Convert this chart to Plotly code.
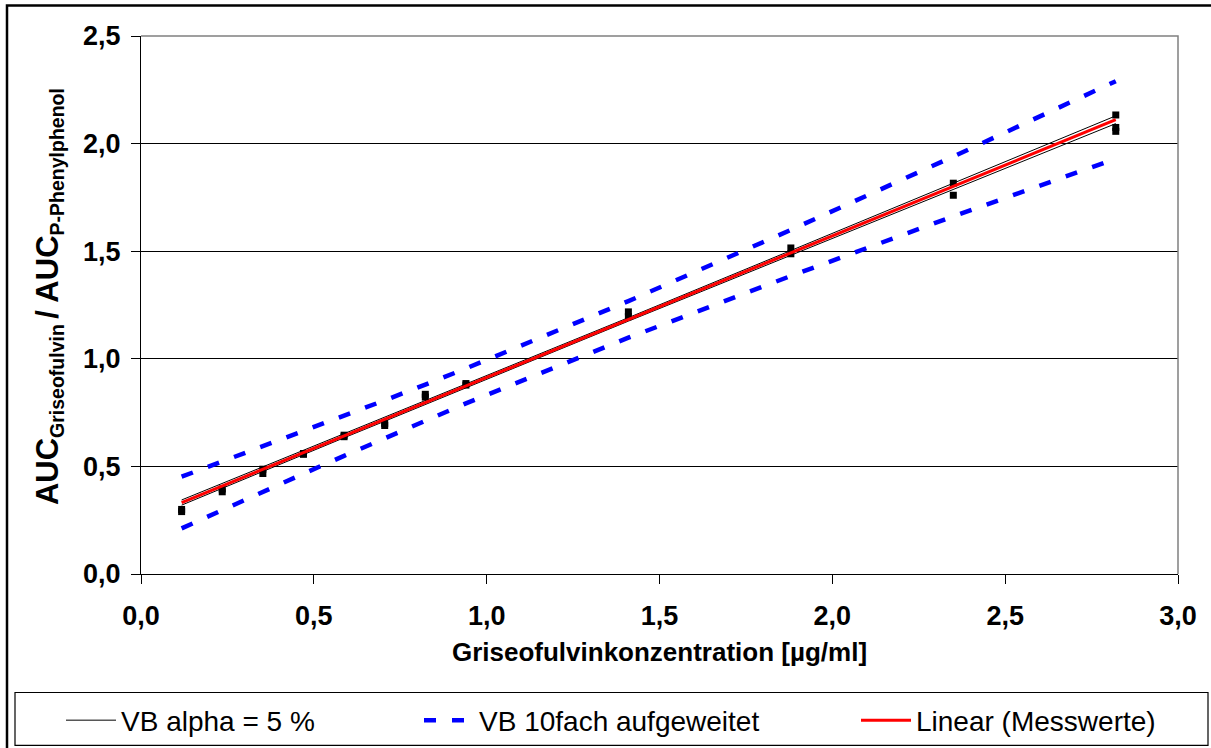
import plotly.graph_objects as go

# ---------------- data ----------------
conc = [0.1175, 0.235, 0.3525, 0.47, 0.5875, 0.705, 0.8225, 0.94, 1.41, 1.88, 2.35, 2.82]

meas_x = [0.1175, 0.1175, 0.235, 0.235, 0.3525, 0.3525, 0.47, 0.47, 0.5875, 0.5875,
          0.705, 0.705, 0.8225, 0.8225, 0.94, 0.94, 1.41, 1.41, 1.88, 1.88,
          2.35, 2.35, 2.82, 2.82, 2.82]
meas_y = [0.300, 0.290, 0.395, 0.382, 0.487, 0.467, 0.560, 0.556, 0.645, 0.638,
          0.700, 0.690, 0.835, 0.822, 0.885, 0.878, 1.218, 1.196, 1.515, 1.488,
          1.816, 1.760, 2.133, 2.075, 2.057]

vb5_upper = [0.344, 0.421, 0.497, 0.574, 0.651, 0.728, 0.804, 0.882, 1.191, 1.503, 1.815, 2.129]
vb5_lower = [0.320, 0.399, 0.477, 0.554, 0.633, 0.710, 0.788, 0.866, 1.175, 1.481, 1.787, 2.093]

vb10_upper = [0.452, 0.522, 0.592, 0.662, 0.734, 0.807, 0.880, 0.955, 1.268, 1.599, 1.940, 2.290]
vb10_lower = [0.212, 0.298, 0.382, 0.466, 0.549, 0.631, 0.712, 0.793, 1.098, 1.385, 1.662, 1.930]

lin_x = [0.1175, 2.82]
lin_y = [0.332, 2.111]

x_ticks = [0.0, 0.5, 1.0, 1.5, 2.0, 2.5, 3.0]
y_ticks = [0.0, 0.5, 1.0, 1.5, 2.0, 2.5]

names = ["VB alpha = 5 %", "VB 10fach aufgeweitet", "Linear (Messwerte)"]
x_title = "Griseofulvinkonzentration [µg/ml]"
y_title = ("AUC<sub><span style='font-size:19.5px'>Griseofulvin </span></sub>/ "
           "AUC<sub><span style='font-size:19.5px'>P-Phenylphenol</span></sub>")

# ---------------- figure ----------------
FONT = "Liberation Sans, Arial, sans-serif"
W, H = 1211, 758
SY = H / 748.0          # the page is photographed slightly squeezed vertically
L, R = 141, 33
T = round(35.5 * SY)
B = H - round(574.3 * SY)
PW, PH = W - L - R, H - T - B


def px(xp):
    return (xp - L) / PW


def py(yp):
    return (H - B - yp * SY) / PH


fig = go.Figure()

# measured points
fig.add_trace(go.Scatter(x=meas_x, y=meas_y, mode="markers", showlegend=False,
                         marker=dict(symbol="square", size=7, color="black")))

# 5 % confidence band
fig.add_trace(go.Scatter(x=conc, y=vb5_upper, mode="lines", name=names[0],
                         legendgroup="vb5", legendwidth=293,
                         line=dict(color="black", width=1)))
fig.add_trace(go.Scatter(x=conc, y=vb5_lower, mode="lines", name=names[0],
                         legendgroup="vb5", showlegend=False,
                         line=dict(color="black", width=1)))

# 10x widened band
fig.add_trace(go.Scatter(x=conc, y=vb10_upper, mode="lines", name=names[1],
                         legendgroup="vb10", legendwidth=372,
                         line=dict(color="#0000FF", width=4.5, dash="12px,16px")))
fig.add_trace(go.Scatter(x=conc, y=vb10_lower, mode="lines", name=names[1],
                         legendgroup="vb10", showlegend=False,
                         line=dict(color="#0000FF", width=4.5, dash="12px,16px")))

# linear regression
fig.add_trace(go.Scatter(x=lin_x, y=lin_y, mode="lines", name=names[2],
                         legendwidth=260,
                         line=dict(color="#FF0000", width=3)))

tickfont = dict(family=FONT, size=27, color="black", weight="bold")

fig.update_layout(
    width=W, height=H,
    margin=dict(l=L, r=R, t=T, b=B, pad=0),
    paper_bgcolor="white", plot_bgcolor="white",
    separators=",.",
    font=dict(family=FONT, color="black"),
    xaxis=dict(
        range=[0, 3], tickvals=x_ticks, tickformat=".1f",
        ticks="outside", ticklen=9, tickcolor="black", tickwidth=1,
        showgrid=False, zeroline=False,
        showline=True, linecolor="black", linewidth=1,
        tickfont=tickfont, ticklabelstandoff=9,
        title=dict(text=x_title, standoff=12,
                   font=dict(family=FONT, size=26, color="black", weight="bold")),
    ),
    yaxis=dict(
        range=[0, 2.5], tickvals=y_ticks, tickformat=".1f",
        ticks="outside", ticklen=9, tickcolor="black", tickwidth=1,
        showgrid=True, gridcolor="black", gridwidth=1, zeroline=False,
        showline=True, linecolor="black", linewidth=1,
        tickfont=tickfont, ticklabelstandoff=5,
    ),
    annotations=[
        dict(text=y_title, xref="paper", yref="paper", x=px(49), y=py(297),
             xanchor="center", yanchor="middle", textangle=-90, showarrow=False,
             font=dict(family=FONT, size=31, color="black", weight="bold")),
    ],
    legend=dict(
        orientation="h", x=px(61), xanchor="left", y=py(721), yanchor="middle",
        bgcolor="rgba(0,0,0,0)", borderwidth=0, itemwidth=50,
        font=dict(family=FONT, size=28, color="black"),
        traceorder="normal",
    ),
    shapes=[
        # plot-area border (top and right, grey)
        dict(type="path", xref="paper", yref="paper",
             path="M 0 1 L 1 1 L 1 0", line=dict(color="#808080", width=1.5),
             layer="above"),
        # legend box
        dict(type="rect", xref="paper", yref="paper",
             x0=px(15), x1=px(1208), y0=py(746), y1=py(693),
             line=dict(color="black", width=1.2)),
        # outer chart border
        dict(type="rect", xref="paper", yref="paper",
             x0=px(7), x1=px(1216), y0=py(760), y1=py(5),
             line=dict(color="black", width=2.5)),
    ],
)

fig.write_html(
    "out.html",
    config={"displayModeBar": False, "responsive": False},
    post_script=("document.documentElement.style.margin='0';"
                 "document.documentElement.style.overflow='hidden';"
                 "document.body.style.margin='0';"
                 "document.body.style.padding='0';"
                 "document.body.style.overflow='hidden';"),
)
